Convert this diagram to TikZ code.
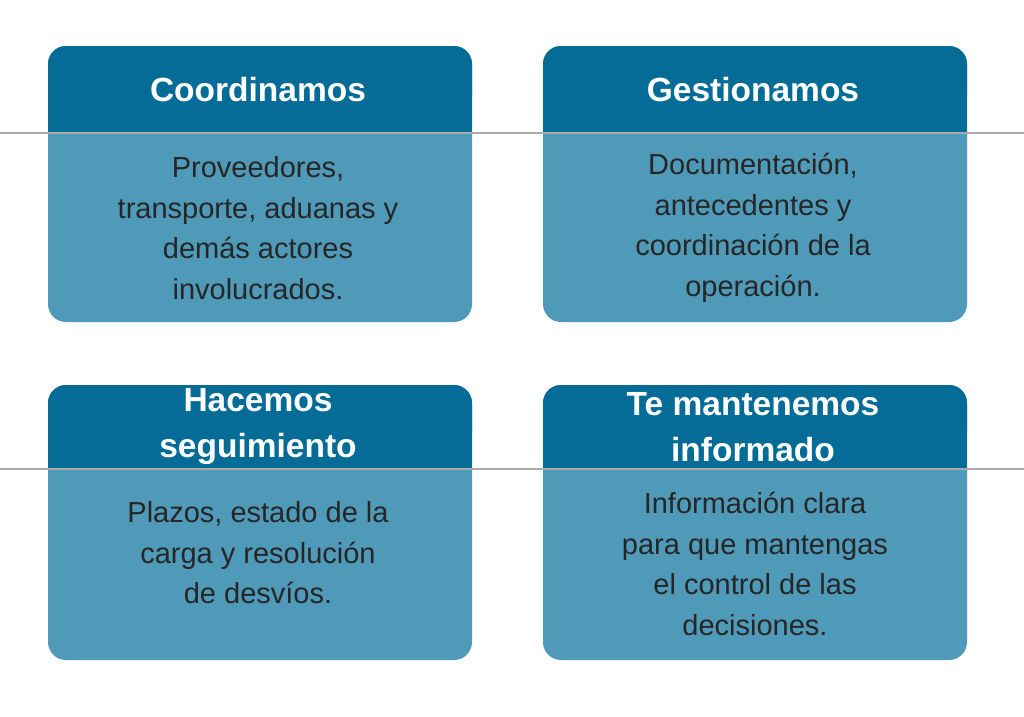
\documentclass[tikz,border=0pt]{standalone}
\usepackage{fontspec}
\setmainfont{Liberation Sans}
\begin{document}
\begin{tikzpicture}[x=1pt,y=-1pt,
  body/.style={fill=bodyc,draw=none,rounded corners=18pt},
  head/.style={fill=headc,draw=none},
  ttl/.style={text=white,font=\fontsize{33.5}{46}\selectfont\bfseries,align=center},
  txt/.style={text=black!85,font=\fontsize{29}{40.5}\selectfont,align=center},
  gline/.style={draw=black!33,line width=2pt}]
\definecolor{bodyc}{HTML}{4E9AB8}
\definecolor{headc}{HTML}{046C97}
\useasboundingbox (0,0) rectangle (1024,716);
\fill[white] (0,0) rectangle (1024,716);
% boxes
\foreach \x/\ya/\yb/\yc in {48/46/133/322, 543/46/133/322, 48/385/469/660, 543/385/469/660}{
  \fill[body] (\x,\ya) rectangle (\x+424,\yc);
  \fill[head,rounded corners=18pt] (\x,\ya) rectangle (\x+424,\yb-20);
  \fill[head] (\x,\ya+30) rectangle (\x+424,\yb);
}
\draw[gline] (0,133) -- (1024,133);
\draw[gline] (0,469) -- (1024,469);
\node[ttl] (t1) at (258,90) {Coordinamos};
\node[ttl] (t2) at (753,90) {Gestionamos};
\node[ttl] (t3) at (258,427) {Hacemos\\seguimiento};
\node[ttl] (t4) at (753,427) {Te mantenemos\\informado};
\node[txt] (b1) at (258,228) {Proveedores,\\transporte, aduanas y\\demás actores\\involucrados.};
\node[txt] (b2) at (753,228) {Documentación,\\antecedentes y\\coordinación de la\\operación.};
\node[txt] (b3) at (258,553) {Plazos, estado de la\\carga y resolución\\de desvíos.};
\node[txt] (b4) at (755,564) {Información clara\\para que mantengas\\el control de las\\decisiones.};
\end{tikzpicture}
\end{document}
